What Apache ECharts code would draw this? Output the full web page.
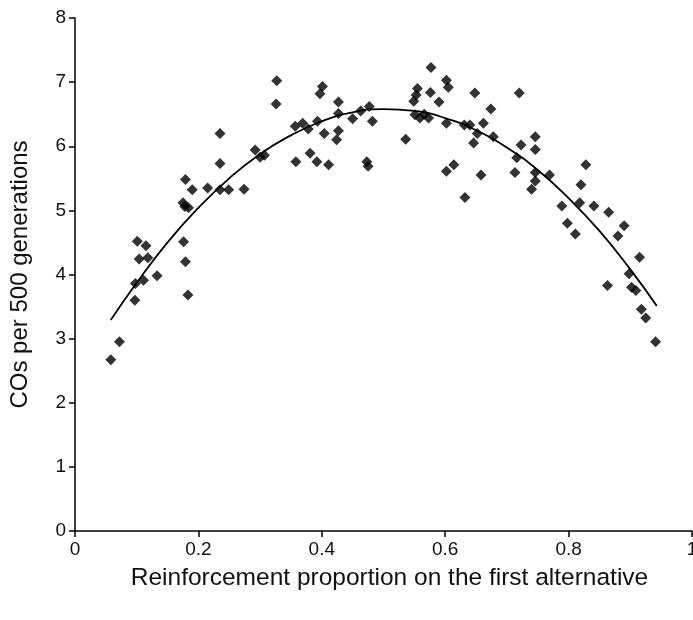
<!DOCTYPE html>
<html>
<head>
<meta charset="utf-8">
<script src="https://cdn.jsdelivr.net/npm/echarts@6/dist/echarts.min.js"></script>
<style>html,body{margin:0;padding:0;background:#fff}#c{width:693px;height:620px}</style>
</head>
<body>
<div id="c"></div>
<script>
// Scatter observations: [reinforcement proportion, COs per 500 generations]
const pointsX = [0.058,0.072,0.097,0.098,0.111,0.133,0.104,0.118,0.101,0.115,0.176,0.179,0.183,0.178,
  0.327,0.326,0.235,0.235,0.179,0.190,0.215,0.235,0.249,0.274,0.175,0.184,0.292,0.300,0.307,
  0.357,0.369,0.378,0.393,0.401,0.397,0.427,0.427,0.404,0.427,0.424,0.450,0.463,0.477,0.482,
  0.358,0.381,0.392,0.411,0.473,0.475,0.536,0.577,0.555,0.553,0.549,0.576,0.590,0.602,0.605,
  0.551,0.559,0.573,0.566,0.602,0.631,0.602,0.614,0.632,
  0.648,0.720,0.674,0.662,0.640,0.652,0.646,0.678,0.658,0.746,0.723,0.746,0.716,0.713,0.746,
  0.769,0.746,0.740,0.828,0.820,0.789,0.818,0.841,0.865,
  0.798,0.811,0.890,0.880,0.915,0.898,0.863,0.902,0.909,0.918,0.925,0.941];
const pointsY = [2.67,2.95,3.60,3.86,3.91,3.98,4.24,4.26,4.52,4.45,4.51,4.20,3.68,5.06,
  7.02,6.66,6.20,5.73,5.48,5.32,5.35,5.32,5.32,5.33,5.12,5.04,5.94,5.83,5.86,
  6.31,6.36,6.27,6.39,6.93,6.82,6.69,6.51,6.20,6.24,6.10,6.43,6.55,6.62,6.39,
  5.76,5.89,5.76,5.71,5.76,5.69,6.11,7.23,6.90,6.80,6.70,6.84,6.69,7.03,6.92,
  6.49,6.44,6.44,6.50,6.36,6.33,5.61,5.71,5.20,
  6.83,6.83,6.58,6.36,6.33,6.20,6.05,6.15,5.55,6.15,6.02,5.95,5.82,5.59,5.59,
  5.55,5.46,5.33,5.71,5.40,5.07,5.12,5.07,4.97,
  4.80,4.63,4.76,4.60,4.27,4.01,3.83,3.80,3.75,3.46,3.32,2.95];
// Trend curve
const curveX = [0.058,0.10,0.15,0.20,0.25,0.30,0.35,0.40,0.45,0.50,0.55,0.60,0.65,0.70,0.75,0.80,0.85,0.90,0.943];
const curveY = [3.29,3.87,4.50,5.04,5.50,5.88,6.17,6.39,6.53,6.58,6.55,6.44,6.25,5.98,5.63,5.19,4.68,4.08,3.51];
const xTicks = [0,0.2,0.4,0.6,0.8,1];
const yTicks = [0,1,2,3,4,5,6,7,8];
const xTitle = 'Reinforcement proportion on the first alternative';
const yTitle = 'COs per 500 generations';

const scatterData = pointsX.map((x,i)=>[x,pointsY[i]]);
const curveData = curveX.map((x,i)=>[x,curveY[i]]);
const font = 'Liberation Sans, Arial, sans-serif';
const chart = echarts.init(document.getElementById('c'), null, {renderer:'canvas'});
chart.setOption({
  animation:false,
  backgroundColor:'#fff',
  grid:{left:75,right:1,top:18,bottom:89,containLabel:false,outerBoundsMode:'none'},
  xAxis:{type:'value',min:0,max:1,interval:0.2,
    name:xTitle,nameLocation:'middle',nameGap:35,
    nameTextStyle:{color:'#111',fontFamily:font,fontSize:24.5,padding:[0,0,0,12]},
    axisLine:{show:true,lineStyle:{color:'#000',width:1.5}},
    axisTick:{show:true,inside:false,length:6,lineStyle:{color:'#000',width:1.5}},
    axisLabel:{color:'#111',fontFamily:font,fontSize:19,margin:9,showMaxLabel:true,
      formatter:v=>String(+v.toFixed(1))},
    splitLine:{show:false}},
  yAxis:{type:'value',min:0,max:8,interval:1,
    name:yTitle,nameLocation:'middle',nameGap:43,nameRotate:90,
    nameTextStyle:{color:'#111',fontFamily:font,fontSize:24},
    axisLine:{show:true,lineStyle:{color:'#000',width:1.5}},
    axisTick:{show:true,inside:false,length:6,lineStyle:{color:'#000',width:1.5}},
    axisLabel:{color:'#111',fontFamily:font,fontSize:19,margin:9},
    splitLine:{show:false}},
  series:[
    {type:'scatter',data:scatterData,symbol:'diamond',symbolSize:11,
      itemStyle:{color:'#000'},z:3},
    {type:'line',data:curveData,smooth:true,showSymbol:false,symbol:'none',
      lineStyle:{color:'#000',width:1.8},z:2}
  ]
});
</script>
</body>
</html>
